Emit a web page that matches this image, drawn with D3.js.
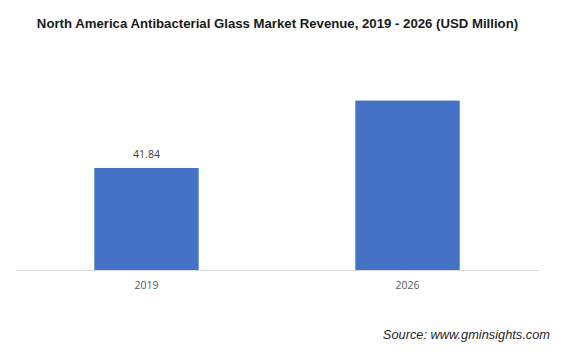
<!DOCTYPE html>
<html><head><meta charset="utf-8">
<script src="https://cdn.jsdelivr.net/npm/d3@7"></script>
<style>body{margin:0;background:#fff}svg{display:block}</style>
</head><body>
<svg id="c" width="564" height="358"></svg>
<script>
const categories = ["2019", "2026"];
const values = [41.84, 69.5];
const valueLabels = ["41.84", ""];
const title = "North America Antibacterial Glass Market Revenue, 2019 - 2026 (USD Million)";
const source = "Source: www.gminsights.com";

const svg = d3.select("#c");
const x = d3.scaleBand().domain(categories).range([16, 538]).paddingInner(0.6).paddingOuter(0.3);
const y = d3.scaleLinear().domain([0, 80]).range([270, 75]);

svg.append("text").attr("x", 277.5).attr("y", 28).attr("text-anchor", "middle")
  .attr("font-family", "Liberation Sans, Arial, sans-serif").attr("font-weight", "bold")
  .attr("font-size", 13.2).attr("fill", "#1a1a1a").text(title);

svg.selectAll("rect.bar").data(values).join("rect").attr("class", "bar")
  .attr("x", (d, i) => x(categories[i])).attr("width", x.bandwidth())
  .attr("y", d => y(d)).attr("height", d => y(0) - y(d)).attr("fill", "#4472C4");

svg.append("line").attr("x1", 16).attr("x2", 539).attr("y1", y(0) + 0.5).attr("y2", y(0) + 0.5)
  .attr("stroke", "#d9d9d9").attr("stroke-width", 1);

const xAxis = svg.append("g").attr("transform", `translate(0,${y(0)})`)
  .call(d3.axisBottom(x).tickSize(0).tickPadding(12));
xAxis.select(".domain").remove();
xAxis.selectAll("text").attr("font-family", "Open Sans, sans-serif").attr("font-size", 10.5).attr("fill", "#595959");

svg.selectAll("text.vl").data(values).join("text").attr("class", "vl")
  .attr("x", (d, i) => x(categories[i]) + x.bandwidth() / 2).attr("y", d => y(d) - 10)
  .attr("text-anchor", "middle").attr("font-family", "Open Sans, sans-serif")
  .attr("font-size", 10.5).attr("fill", "#404040").text((d, i) => valueLabels[i]);

svg.append("text").attr("x", 550).attr("y", 339).attr("text-anchor", "end")
  .attr("font-family", "Liberation Sans, Arial, sans-serif").attr("font-style", "italic")
  .attr("font-size", 12.8).attr("fill", "#262626").text(source);
</script>
</body></html>
